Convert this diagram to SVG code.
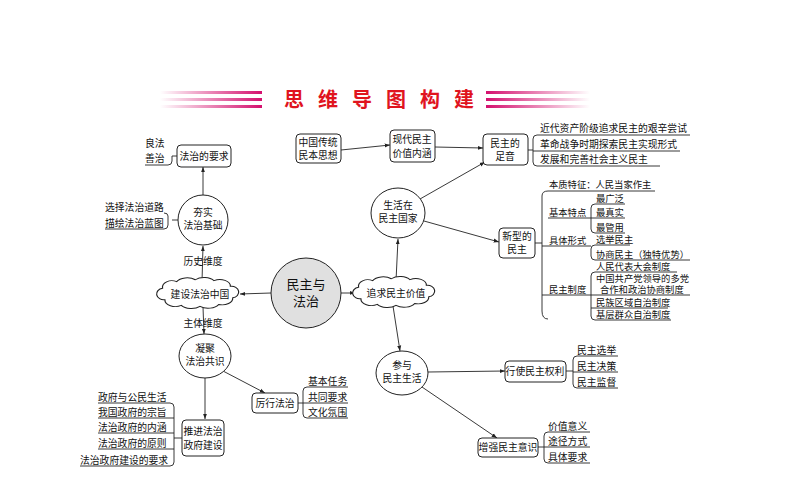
<svg xmlns="http://www.w3.org/2000/svg" width="794" height="495" viewBox="0 0 794 495">
<style>
text{font-family:"Noto Sans CJK SC","Noto Sans",sans-serif;font-size:9.8px;fill:#111}
.c{text-anchor:middle}
.s{font-size:9.3px}
.b{fill:#fff;stroke:#222;stroke-width:1}
.l{fill:none;stroke:#222;stroke-width:0.9}
.t{font-size:20px;font-weight:bold;fill:#e0141e;text-anchor:middle;letter-spacing:14px}
</style>
<defs>
<marker id="a" viewBox="0 0 8 8" refX="8" refY="4" markerWidth="6" markerHeight="6" orient="auto"><path d="M0,1 L8,4 L0,7 z" fill="#222"/></marker>
<linearGradient id="gl" x1="0" x2="1"><stop offset="0" stop-color="#d4106e" stop-opacity="0"/><stop offset="1" stop-color="#d4106e"/></linearGradient>
<linearGradient id="gr" x1="0" x2="1"><stop offset="0" stop-color="#d4106e"/><stop offset="1" stop-color="#d4106e" stop-opacity="0"/></linearGradient>
<path id="cloud" d="M-32,-6 a8,7 0 0 1 12,-7 a10,7 0 0 1 16,-2 a10,7 0 0 1 16,1 a9,7 0 0 1 14,6 a6,6 0 0 1 2,12 a9,7 0 0 1 -12,7 a10,7 0 0 1 -16,2 a10,7 0 0 1 -16,-1 a9,7 0 0 1 -14,-6 a6,6 0 0 1 -2,-12 z"/>
</defs>
<rect width="794" height="495" fill="#fff"/>
<g id="title">
<rect x="160" y="91" width="102" height="3" fill="url(#gl)"/>
<rect x="160" y="98" width="102" height="3" fill="url(#gl)"/>
<rect x="160" y="105" width="102" height="3" fill="url(#gl)"/>
<rect x="486" y="91" width="104" height="3" fill="url(#gr)"/>
<rect x="486" y="98" width="104" height="3" fill="url(#gr)"/>
<rect x="486" y="105" width="104" height="3" fill="url(#gr)"/>
<text class="t" x="386" y="107">思维导图构建</text>
</g>
<g id="connectors">
<path class="l" d="M341,150 L390,145" marker-end="url(#a)"/>
<path class="l" d="M435,147 L483,148" marker-end="url(#a)"/>
<path class="l" d="M420,199 L485,162" marker-end="url(#a)"/>
<path class="l" d="M424,221 L499,242" marker-end="url(#a)"/>
<path class="l" d="M396,281 L398,239" marker-end="url(#a)"/>
<path class="l" d="M341,293 L355,293" marker-end="url(#a)"/>
<path class="l" d="M393,306 L400,351" marker-end="url(#a)"/>
<path class="l" d="M428,372 L505,371" marker-end="url(#a)"/>
<path class="l" d="M422,387 L497,438" marker-end="url(#a)"/>
<path class="l" d="M271,293 L240,294" marker-end="url(#a)"/>
<path class="l" d="M202,282 L203,246" marker-end="url(#a)"/>
<path class="l" d="M203,195 L203,167" marker-end="url(#a)"/>
<path class="l" d="M203,307 L204,334" marker-end="url(#a)"/>
<path class="l" d="M223,371 L265,393" marker-end="url(#a)"/>
<path class="l" d="M205,378 L205,419" marker-end="url(#a)"/>
<path class="l" d="M528,150 H533 M537,135 Q533,135 533,139 V162 Q533,166 537,166 M533,151 H537 M537,135 H690 M537,151 H680 M537,166 H660"/>
<path class="l" d="M535,243 H542 M548,191 Q542,191 542,196 V311 Q542,319 548,319 M548,191 H655 M542,295 H548 M542,246 H548"/>
<path class="l" d="M548,218 H591 M595,204 Q591,204 591,208 V229 Q591,233 595,233 M591,218 H625 M595,204 H625 M595,233 H625"/>
<path class="l" d="M548,246 H591 M595,245 Q591,245 591,249 V256 Q591,260 595,260 M595,245 H630 M595,260 H690"/>
<path class="l" d="M548,295 H591 M595,272 Q591,272 591,276 V316 Q591,320 595,320 M595,272 H677 M591,295 H690 M591,308 H668 M595,320 H671"/>
<path class="l" d="M177,156 H172 M145,165 H168 Q172,165 172,161 V156"/>
<path class="l" d="M178,220 H172 M105,229 H164 Q168,229 168,225 V216 Q168,213 164,213"/>
<path class="l" d="M298,403 H303 M307,387 Q303,387 303,391 V414 Q303,418 307,418 M303,403 H348 M307,387 H348 M307,418 H348"/>
<path class="l" d="M182,438 H174 M98,403 H170 Q174,403 174,407 V462 Q174,466 170,466 H80 M98,418 H174 M98,433 H174 M98,449 H174"/>
<path class="l" d="M566,371 H573 M577,356 Q573,356 573,360 V384 Q573,388 577,388 M573,372 H618 M577,356 H618 M577,388 H618"/>
<path class="l" d="M538,447 H544 M548,432 Q544,432 544,436 V459 Q544,463 548,463 M544,447 H590 M548,432 H590 M548,463 H590"/>
</g>
<g id="n-root"><circle cx="306" cy="293" r="35" fill="#e0e0e0" stroke="#222"/><text class="c" x="306" y="289" style="font-size:13px">民主与</text><text class="c" x="306" y="306" style="font-size:13px">法治</text></g>
<g id="n-zhuiqiu"><use href="#cloud" transform="translate(396,293) scale(1.17,0.95)" class="b"/><text class="c" x="396" y="297">追求民主价值</text></g>
<g id="n-jianshe"><use href="#cloud" transform="translate(200,294) scale(1.17,0.95)" class="b"/><text class="c" x="200" y="298">建设法治中国</text></g>
<g id="n-shenghuo"><ellipse class="b" cx="398" cy="213" rx="27" ry="25"/><text class="c" x="398" y="209">生活在</text><text class="c" x="398" y="222">民主国家</text></g>
<g id="n-chuantong"><rect class="b" x="296" y="134" width="45" height="29" rx="4"/><text class="c" x="318" y="146">中国传统</text><text class="c" x="318" y="159">民本思想</text></g>
<g id="n-xiandai"><rect class="b" x="390" y="130" width="45" height="32" rx="4"/><text class="c" x="412" y="143">现代民主</text><text class="c" x="412" y="157">价值内涵</text></g>
<g id="n-zuyin"><rect class="b" x="483" y="134" width="45" height="31" rx="4"/><text class="c" x="505" y="147">民主的</text><text class="c" x="505" y="160">足音</text></g>
<g id="n-zuyin-items"><text x="540" y="132">近代资产阶级追求民主的艰辛尝试</text><text x="540" y="148">革命战争时期探索民主实现形式</text><text x="540" y="163">发展和完善社会主义民主</text></g>
<g id="n-xinxing"><rect class="b" x="499" y="228" width="36" height="30" rx="4"/><text class="c" x="517" y="240">新型的</text><text class="c" x="517" y="253">民主</text></g>
<g id="n-xinxing-items" class="s">
<text class="s" x="549" y="188">本质特征：人民当家作主</text>
<text class="s" x="549" y="216">基本特点</text><text class="s" x="596" y="202">最广泛</text><text class="s" x="596" y="216">最真实</text><text class="s" x="596" y="231">最管用</text>
<text class="s" x="549" y="244">具体形式</text><text class="s" x="596" y="243">选举民主</text><text class="s" x="596" y="258">协商民主（独特优势）</text>
<text class="s" x="549" y="293">民主制度</text><text class="s" x="596" y="270">人民代表大会制度</text><text class="s" x="596" y="282">中国共产党领导的多党</text><text class="s" x="600" y="293">合作和政治协商制度</text><text class="s" x="596" y="306">民族区域自治制度</text><text class="s" x="596" y="318">基层群众自治制度</text>
</g>
<g id="n-canyu"><ellipse class="b" cx="402" cy="373" rx="26" ry="22"/><text class="c" x="402" y="369">参与</text><text class="c" x="402" y="382">民主生活</text></g>
<g id="n-xingshi"><rect class="b" x="505" y="361" width="61" height="21" rx="4"/><text class="c" x="535" y="375">行使民主权利</text><text x="577" y="354">民主选举</text><text x="577" y="370">民主决策</text><text x="577" y="386">民主监督</text></g>
<g id="n-zengqiang"><rect class="b" x="478" y="438" width="60" height="19" rx="4"/><text class="c" x="508" y="451">增强民主意识</text><text x="548" y="430">价值意义</text><text x="548" y="445">途径方式</text><text x="548" y="461">具体要求</text></g>
<g id="n-hangshi"><ellipse class="b" cx="203" cy="220" rx="25" ry="25"/><text class="c" x="203" y="216">夯实</text><text class="c" x="203" y="229">法治基础</text><text x="105" y="211">选择法治道路</text><text x="105" y="227">描绘法治蓝图</text></g>
<g id="n-yaoqiu"><rect class="b" x="177" y="145" width="54" height="22" rx="4"/><text class="c" x="204" y="160">法治的要求</text><text x="145" y="147">良法</text><text x="145" y="162">善治</text></g>
<g id="labels"><text class="c" x="203" y="265">历史维度</text><text class="c" x="203" y="327">主体维度</text></g>
<g id="n-ningju"><ellipse class="b" cx="205" cy="356" rx="26" ry="22"/><text class="c" x="205" y="352">凝聚</text><text class="c" x="205" y="365">法治共识</text></g>
<g id="n-lixing"><rect class="b" x="252" y="393" width="46" height="20" rx="4"/><text class="c" x="275" y="407">厉行法治</text><text x="308" y="385">基本任务</text><text x="308" y="401">共同要求</text><text x="308" y="416">文化氛围</text></g>
<g id="n-tuijin"><rect class="b" x="182" y="420" width="42" height="36" rx="4"/><text class="c" x="203" y="435">推进法治</text><text class="c" x="203" y="449">政府建设</text>
<text x="98" y="401">政府与公民生活</text><text x="98" y="416">我国政府的宗旨</text><text x="98" y="431">法治政府的内涵</text><text x="98" y="447">法治政府的原则</text><text x="80" y="464">法治政府建设的要求</text></g>
</svg>
